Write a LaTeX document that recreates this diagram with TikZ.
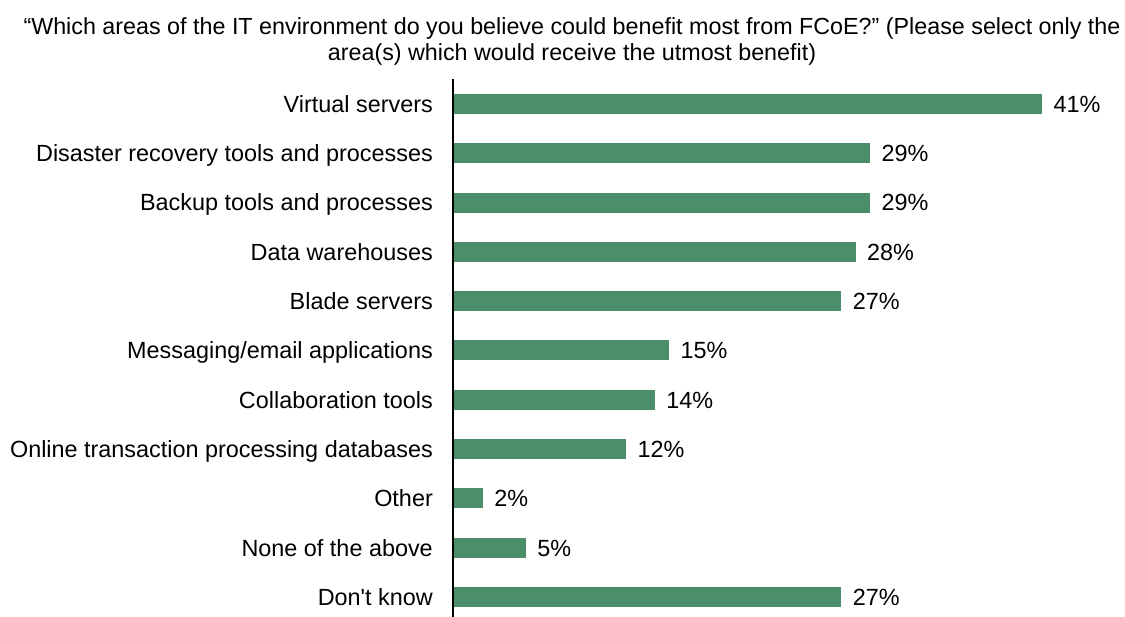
\documentclass[tikz,border=0pt]{standalone}
\usepackage{fontspec}
\setmainfont{Liberation Sans}
\usepackage{tikz}
\usetikzlibrary{positioning}
\definecolor{barGreen}{RGB}{76,141,106}
\tikzstyle{catLabel} = [anchor=east, inner sep=0pt, text height=16.7pt, text depth=0pt, font=\fontsize{23.4}{27}\selectfont]
\tikzstyle{bar} = [rectangle, anchor=west, fill=barGreen, minimum height=20pt, inner sep=0pt]
\tikzstyle{value} = [inner sep=0pt, text height=16.7pt, text depth=0pt, font=\fontsize{23.4}{27}\selectfont]
\tikzstyle{axis} = [line width=2pt, black]

\begin{document}
\begin{tikzpicture}[x=1pt, y=-1pt, node distance=11pt]
						\useasboundingbox (0,0) rectangle (1125,617);
						\node (title) [align=center, inner sep=0pt, font=\fontsize{23.3}{26}\selectfont] at (572,41) {``Which areas of the IT environment do you believe could benefit most from FCoE?'' (Please select only the\\area(s) which would receive the utmost benefit)};
						\coordinate (axTop) at (453,79);
						\coordinate (axBot) at (453,617);
						\draw [axis] (axTop) -- (axBot);
						\node (VS) [bar, minimum width=587.9pt] at (454,104) {};
						\node (DR) [bar, minimum width=415.9pt] at (454,153.3) {};
						\node (BT) [bar, minimum width=415.9pt] at (454,202.6) {};
						\node (DW) [bar, minimum width=401.5pt] at (454,251.9) {};
						\node (BS) [bar, minimum width=387.2pt] at (454,301.2) {};
						\node (ME) [bar, minimum width=215.1pt] at (454,350.5) {};
						\node (CT) [bar, minimum width=200.8pt] at (454,399.8) {};
						\node (OT) [bar, minimum width=172.1pt] at (454,449.1) {};
						\node (OR) [bar, minimum width=28.7pt] at (454,498.4) {};
						\node (NA) [bar, minimum width=71.7pt] at (454,547.7) {};
						\node (DK) [bar, minimum width=387.2pt] at (454,597) {};
						\node (VSl) [catLabel] at (433,104) {Virtual servers};
						\node (DRl) [catLabel] at (433,153.3) {Disaster recovery tools and processes};
						\node (BTl) [catLabel] at (433,202.6) {Backup tools and processes};
						\node (DWl) [catLabel] at (433,251.9) {Data warehouses};
						\node (BSl) [catLabel] at (433,301.2) {Blade servers};
						\node (MEl) [catLabel] at (433,350.5) {Messaging/email applications};
						\node (CTl) [catLabel] at (433,399.8) {Collaboration tools};
						\node (OTl) [catLabel] at (433,449.1) {Online transaction processing databases};
						\node (ORl) [catLabel] at (433,498.4) {Other};
						\node (NAl) [catLabel] at (433,547.7) {None of the above};
						\node (DKl) [catLabel] at (433,597) {Don\textquotesingle t know};
						\node (VSv) [value, right=of VS] {41\%};
						\node (DRv) [value, right=of DR] {29\%};
						\node (BTv) [value, right=of BT] {29\%};
						\node (DWv) [value, right=of DW] {28\%};
						\node (BSv) [value, right=of BS] {27\%};
						\node (MEv) [value, right=of ME] {15\%};
						\node (CTv) [value, right=of CT] {14\%};
						\node (OTv) [value, right=of OT] {12\%};
						\node (ORv) [value, right=of OR] {2\%};
						\node (NAv) [value, right=of NA] {5\%};
						\node (DKv) [value, right=of DK] {27\%};
					\end{tikzpicture}
\end{document}
